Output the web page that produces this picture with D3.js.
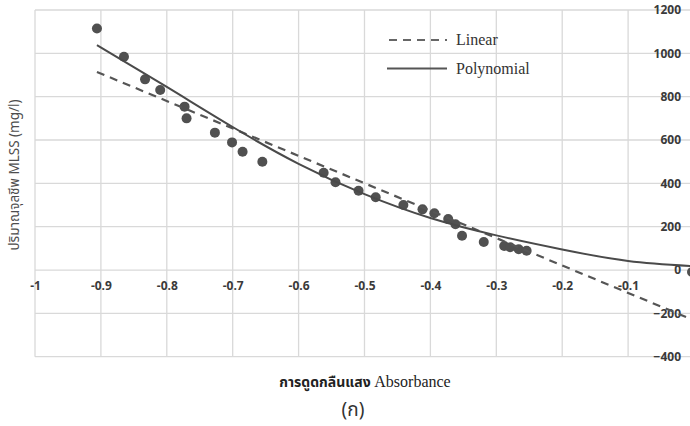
<!DOCTYPE html>
<html>
<head>
<meta charset="utf-8">
<script src="https://cdn.jsdelivr.net/npm/d3@7"></script>
<style>
  html, body { margin: 0; padding: 0; background: #fff; overflow: hidden; }
  svg { display: block; }
</style>
</head>
<body>
<svg id="chart" width="690" height="426"></svg>
<script>
// Observed data points (absorbance, MLSS mg/l)
const absorbance = [-0.906, -0.865, -0.833, -0.810, -0.773, -0.770, -0.727, -0.701, -0.685, -0.655,
  -0.562, -0.544, -0.509, -0.483, -0.441, -0.412, -0.394, -0.373, -0.362, -0.352,
  -0.319, -0.288, -0.279, -0.266, -0.254, -0.003];
const mlss = [1115, 984, 880, 831, 754, 700, 634, 589, 546, 500,
  449, 405, 366, 336, 300, 280, 262, 235, 211, 158,
  129, 111, 105, 96, 89, -9];

// Trendlines
const linearX = [-0.906, 0.0];
const linearY = [914, -232];
const polyX = [-0.906, -0.8, -0.7, -0.6, -0.5, -0.4, -0.3, -0.2, -0.1, 0.0];
const polyY = [1038, 845, 660, 490, 350, 240, 160, 95, 42, 18];

// Axis ticks (the 0 tick of the x axis lies beyond the visible edge)
const xTicks = [-1, -0.9, -0.8, -0.7, -0.6, -0.5, -0.4, -0.3, -0.2, -0.1];
const yTicks = [-400, -200, 0, 200, 400, 600, 800, 1000, 1200];

const legendLabels = ["Linear", "Polynomial"];
const yTitle = "ปริมาณจุลชีพ MLSS (mg/l)";
const xTitleThai = "การดูดกลืนแสง";
const xTitleEn = "Absorbance";
const caption = "(ก)";

const svg = d3.select("#chart");
const x = d3.scaleLinear().domain([-1, 0]).range([35, 694]);
const y = d3.scaleLinear().domain([-400, 1200]).range([356.7, 10]);

const gridColor = "#d9d9d9";
const grid = svg.append("g");
grid.selectAll("line.h").data(yTicks).enter().append("line")
  .attr("x1", x(-1)).attr("x2", x(0))
  .attr("y1", d => y(d)).attr("y2", d => y(d))
  .attr("stroke", gridColor).attr("stroke-width", 1.3);
grid.selectAll("line.v").data(xTicks.concat([0])).enter().append("line")
  .attr("x1", d => x(d)).attr("x2", d => x(d))
  .attr("y1", y(1200)).attr("y2", y(-400))
  .attr("stroke", gridColor).attr("stroke-width", 1.3);

const tickFont = "'Open Sans', 'Liberation Sans', sans-serif";

// X axis at y = 0
const xAxis = svg.append("g")
  .attr("transform", `translate(0,${y(0)})`)
  .call(d3.axisBottom(x).tickValues(xTicks).tickSize(0).tickPadding(11)
    .tickFormat(d => String(d)));
xAxis.select(".domain").remove();
xAxis.selectAll("text")
  .attr("font-family", tickFont).attr("font-size", 12).attr("font-weight", 700)
  .attr("fill", "#3a3a3a");

// Y axis at x = 0 (labels to the left)
const yAxis = svg.append("g")
  .attr("transform", `translate(${x(0)},0)`)
  .call(d3.axisLeft(y).tickValues(yTicks).tickSize(0).tickPadding(13)
    .tickFormat(d3.format("d")));
yAxis.select(".domain").remove();
yAxis.selectAll("text")
  .attr("font-family", tickFont).attr("font-size", 12).attr("font-weight", 700)
  .attr("fill", "#3a3a3a");

// Points
svg.append("g").selectAll("circle")
  .data(absorbance.map((a, i) => [a, mlss[i]]))
  .enter().append("circle")
  .attr("cx", d => x(d[0])).attr("cy", d => y(d[1]))
  .attr("r", 5)
  .attr("fill", "#505050");

// Trendlines
const lineGen = d3.line().x(d => x(d[0])).y(d => y(d[1]));
svg.append("path")
  .datum(linearX.map((a, i) => [a, linearY[i]]))
  .attr("d", lineGen)
  .attr("fill", "none").attr("stroke", "#555").attr("stroke-width", 2.2)
  .attr("stroke-dasharray", "8,6");
svg.append("path")
  .datum(polyX.map((a, i) => [a, polyY[i]]))
  .attr("d", lineGen.curve(d3.curveNatural))
  .attr("fill", "none").attr("stroke", "#4a4a4a").attr("stroke-width", 2);

// Legend
const legend = svg.append("g");
legend.append("line").attr("x1", 389).attr("x2", 447).attr("y1", 40).attr("y2", 40)
  .attr("stroke", "#666").attr("stroke-width", 2).attr("stroke-dasharray", "8,6");
legend.append("line").attr("x1", 387).attr("x2", 447).attr("y1", 68.5).attr("y2", 68.5)
  .attr("stroke", "#555").attr("stroke-width", 2);
legend.selectAll("text").data(legendLabels).enter().append("text")
  .attr("x", 456).attr("y", (d, i) => 45 + i * 28.5)
  .attr("font-family", "'Liberation Serif', 'Times New Roman', serif")
  .attr("font-size", 16).attr("fill", "#333")
  .text(d => d);

// Y title
svg.append("text")
  .attr("transform", `translate(19,175) rotate(-90)`)
  .attr("text-anchor", "middle")
  .attr("font-family", "'Noto Sans Thai', 'Noto Sans', sans-serif")
  .attr("font-size", 13.5).attr("fill", "#4d4d4d")
  .text(yTitle);

// X title
const xt = svg.append("text")
  .attr("x", 365).attr("y", 387)
  .attr("text-anchor", "middle")
  .attr("fill", "#222");
xt.append("tspan")
  .attr("font-family", "'Noto Sans Thai', 'Noto Sans', sans-serif")
  .attr("font-weight", 700).attr("font-size", 14)
  .text(xTitleThai + " ");
xt.append("tspan")
  .attr("font-family", "'Liberation Serif', 'Times New Roman', serif")
  .attr("font-size", 16)
  .text(xTitleEn);

// Caption
svg.append("text")
  .attr("x", 353).attr("y", 416)
  .attr("text-anchor", "middle")
  .attr("font-family", "'Noto Sans Thai', 'Noto Sans', sans-serif")
  .attr("font-size", 19).attr("fill", "#333")
  .text(caption);
</script>
</body>
</html>
